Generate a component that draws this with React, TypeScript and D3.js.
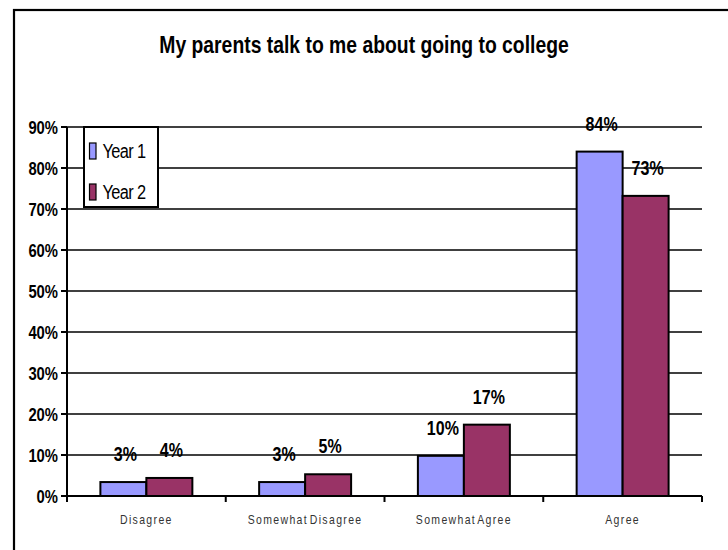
import React from "react";
import * as d3 from "d3";

const categories = ["Disagree", "Somewhat Disagree", "Somewhat Agree", "Agree"];
const seriesNames = ["Year 1", "Year 2"];
const year1 = [3.4, 3.4, 9.8, 84.0];
const year2 = [4.4, 5.3, 17.4, 73.2];
const yTicks = [0, 10, 20, 30, 40, 50, 60, 70, 80, 90];
const colors = ["#9999FF", "#993366"];
const title = "My parents talk to me about going to college";

const SANS = "'Liberation Sans', Arial, sans-serif";

function NText(props: { x: number; y: number; sx?: number; anchor?: string; size: number; bold?: boolean; fill?: string; ls?: number; ws?: number; children: React.ReactNode }) {
  const sx = props.sx ?? 0.8;
  return (
    <text
      transform={`translate(${props.x},${props.y}) scale(${sx},1)`}
      textAnchor={props.anchor ?? "start"}
      fontFamily={SANS}
      fontWeight={props.bold ? "bold" : "normal"}
      fontSize={props.size}
      letterSpacing={props.ls ?? 0}
      wordSpacing={props.ws ?? 0}
      fill={props.fill ?? "#000"}
    >
      {props.children}
    </text>
  );
}

export default function App() {
  const W = 728, H = 550;
  const left = 67, right = 702, top = 127, bottom = 496;
  const x = d3.scaleBand<string>().domain(categories).range([left, right]).paddingInner(0).paddingOuter(0);
  const inner = d3.scaleBand<string>().domain(seriesNames).range([0, x.bandwidth()]).paddingInner(0).paddingOuter(0.726);
  const y = d3.scaleLinear().domain([0, 90]).range([bottom, top]);
  const series = [year1, year2];

  return (
    <svg width={W} height={H} style={{ position: "absolute", left: 0, top: 0, background: "#fff" }}>
      <rect x={14} y={10} width={W} height={H} fill="#fff" stroke="#000" strokeWidth={2.2} />
      <NText x={364} y={53} anchor="middle" bold size={24.5} sx={0.79}>{title}</NText>
      {yTicks.map((t) => (
        <g key={t}>
          {t > 0 && <line x1={left} x2={right} y1={y(t)} y2={y(t)} stroke="#000" strokeWidth={1.4} />}
          <line x1={left - 6} x2={left} y1={y(t)} y2={y(t)} stroke="#000" strokeWidth={2} />
          <NText x={58} y={y(t) + 6.5} anchor="end" bold size={18.5}>{t + "%"}</NText>
        </g>
      ))}
      {categories.map((c, i) => (
        <g key={c}>
          {series.map((s, j) => {
            const bx = (x(c) as number) + (inner(seriesNames[j]) as number);
            const bw = inner.bandwidth();
            return (
              <g key={j}>
                <rect x={bx} y={y(s[i])} width={bw} height={bottom - y(s[i])} fill={colors[j]} stroke="#000" strokeWidth={2} />
                <NText x={bx + bw / 2 + 2} y={y(s[i]) - 21} anchor="middle" bold size={20} sx={0.8}>{Math.round(s[i]) + "%"}</NText>
              </g>
            );
          })}
          <NText x={(x(c) as number) + x.bandwidth() / 2} y={524} anchor="middle" size={12.5} sx={0.84} ls={1.6} ws={-3} fill="#333">{c}</NText>
        </g>
      ))}
      <line x1={left} x2={left} y1={top} y2={bottom} stroke="#000" strokeWidth={2} />
      <line x1={left} x2={right} y1={bottom} y2={bottom} stroke="#000" strokeWidth={2} />
      {d3.range(categories.length + 1).map((k) => {
        const tx = left + k * x.bandwidth();
        return <line key={k} x1={tx} x2={tx} y1={bottom} y2={bottom + 6} stroke="#000" strokeWidth={2} />;
      })}
      <g>
        <rect x={84} y={127} width={74} height={80} fill="#fff" stroke="#000" strokeWidth={2} />
        {seriesNames.map((n, j) => (
          <g key={n}>
            <rect x={89.5} y={143 + j * 41} width={6.5} height={16} fill={colors[j]} stroke="#000" strokeWidth={1.2} />
            <NText x={102.5} y={158 + j * 41} size={21} sx={0.78} ls={-0.8}>{n}</NText>
          </g>
        ))}
      </g>
    </svg>
  );
}
